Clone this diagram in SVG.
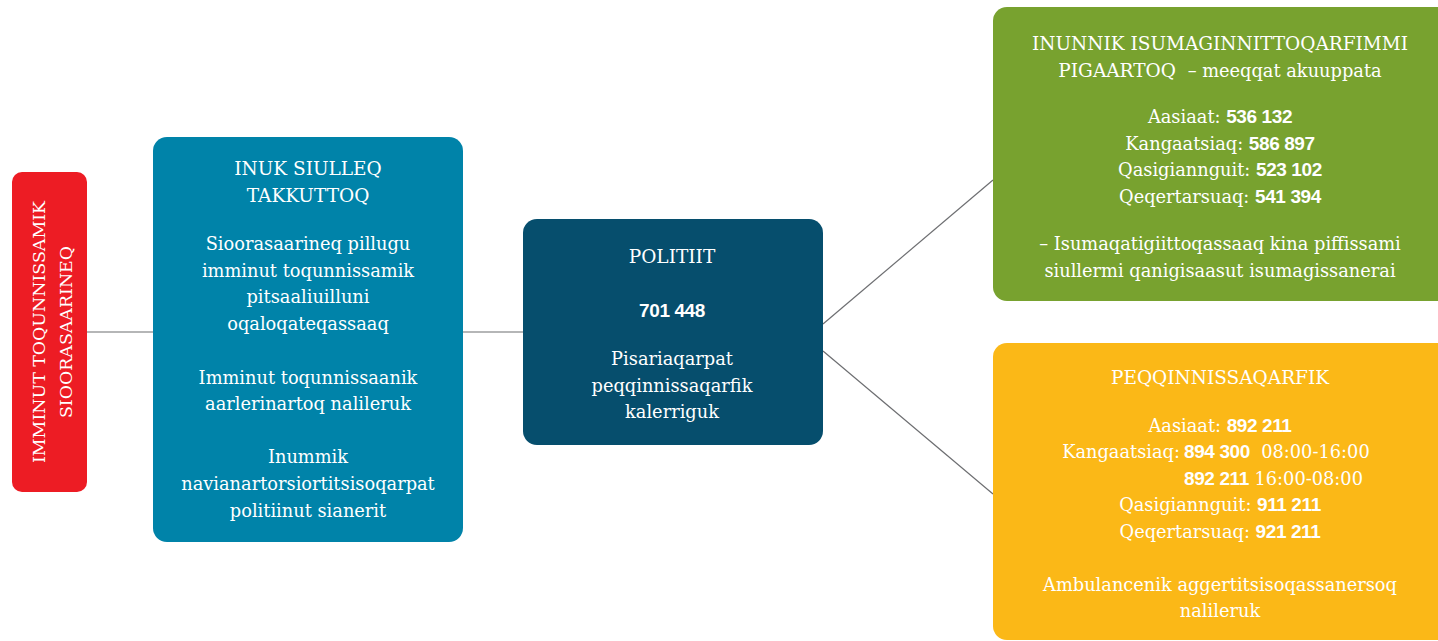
<svg xmlns="http://www.w3.org/2000/svg" width="1438" height="641" viewBox="0 0 1438 641">
<style>
.h{font-family:"DejaVu Serif","Liberation Serif",serif;font-size:18.5px;fill:#fff;text-anchor:middle}
.b{font-family:"DejaVu Serif","Liberation Serif",serif;font-size:17.8px;fill:#fff;text-anchor:middle}
.n{font-family:"Liberation Sans",Arial,sans-serif;font-weight:bold;font-size:19px;letter-spacing:-0.4px}
.p{white-space:pre}
.c{stroke:#6d6e71;stroke-width:1.2;fill:none}
</style>
<rect width="1438" height="641" fill="#fff"/>
<g id="connectors">
<line class="c" x1="86" y1="332" x2="153" y2="332"/>
<line class="c" x1="463" y1="332" x2="523" y2="332"/>
<line class="c" x1="823" y1="324" x2="993" y2="180"/>
<line class="c" x1="823" y1="351" x2="993" y2="494"/>
</g>
<g id="red">
<rect x="12" y="172" width="75" height="320" rx="10" fill="#ed1c24"/>
<text class="h" transform="translate(45,332) rotate(-90)" style="font-size:17.4px">IMMINUT TOQUNNISSAMIK</text>
<text class="h" transform="translate(72,332) rotate(-90)" style="font-size:17.4px">SIOORASAARINEQ</text>
</g>
<g id="blue">
<rect x="153" y="137" width="310" height="405" rx="14" fill="#0083a9"/>
<text class="h" x="308" y="175">INUK SIULLEQ</text>
<text class="h" x="308" y="202">TAKKUTTOQ</text>
<text class="b" x="308" y="250">Sioorasaarineq pillugu</text>
<text class="b" x="308" y="277">imminut toqunnissamik</text>
<text class="b" x="308" y="303">pitsaaliuilluni</text>
<text class="b" x="308" y="330">oqaloqateqassaaq</text>
<text class="b" x="308" y="384">Imminut toqunnissaanik</text>
<text class="b" x="308" y="410">aarlerinartoq nalileruk</text>
<text class="b" x="308" y="463">Inummik</text>
<text class="b" x="308" y="490">navianartorsiortitsisoqarpat</text>
<text class="b" x="308" y="517">politiinut sianerit</text>
</g>
<g id="politiit">
<rect x="523" y="219" width="300" height="226" rx="14" fill="#064e6d"/>
<text class="h" x="672" y="263">POLITIIT</text>
<text class="h" x="672" y="317" style="font-family:'Liberation Sans',sans-serif;font-weight:bold;font-size:19px;letter-spacing:-0.4px">701 448</text>
<text class="b" x="672" y="365">Pisariaqarpat</text>
<text class="b" x="672" y="392">peqqinnissaqarfik</text>
<text class="b" x="672" y="418">kalerriguk</text>
</g>
<g id="green">
<rect x="993" y="7" width="470" height="294" rx="14" fill="#78a22f"/>
<text class="h" x="1220" y="50">INUNNIK ISUMAGINNITTOQARFIMMI</text>
<text class="h p" x="1220" y="77">PIGAARTOQ  <tspan style="font-size:17.8px">– meeqqat akuuppata</tspan></text>
<text class="b" x="1220" y="123">Aasiaat: <tspan class="n">536 132</tspan></text>
<text class="b" x="1220" y="150">Kangaatsiaq: <tspan class="n">586 897</tspan></text>
<text class="b" x="1220" y="176">Qasigiannguit: <tspan class="n">523 102</tspan></text>
<text class="b" x="1220" y="203">Qeqertarsuaq: <tspan class="n">541 394</tspan></text>
<text class="b" x="1220" y="250">– Isumaqatigiittoqassaaq kina piffissami</text>
<text class="b" x="1220" y="277">siullermi qanigisaasut isumagissanerai</text>
</g>
<g id="yellow">
<rect x="993" y="343" width="470" height="297" rx="14" fill="#fbb817"/>
<text class="h" x="1220" y="384">PEQQINNISSAQARFIK</text>
<text class="b" x="1220" y="432">Aasiaat: <tspan class="n">892 211</tspan></text>
<text class="b" x="1180" y="458" style="text-anchor:end">Kangaatsiaq:</text>
<text class="b p" x="1184" y="458" style="text-anchor:start"><tspan class="n">894 300</tspan>  08:00-16:00</text>
<text class="b p" x="1184" y="485" style="text-anchor:start"><tspan class="n">892 211</tspan> 16:00-08:00</text>
<text class="b" x="1220" y="511">Qasigiannguit: <tspan class="n">911 211</tspan></text>
<text class="b" x="1220" y="538">Qeqertarsuaq: <tspan class="n">921 211</tspan></text>
<text class="b" x="1220" y="591">Ambulancenik aggertitsisoqassanersoq</text>
<text class="b" x="1220" y="617">nalileruk</text>
</g>
</svg>
